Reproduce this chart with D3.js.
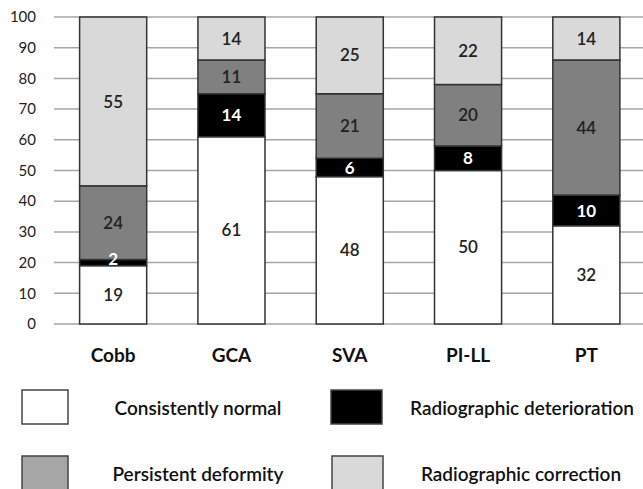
<!DOCTYPE html>
<html>
<head>
<meta charset="utf-8">
<script src="https://cdn.jsdelivr.net/npm/d3@7"></script>
<style>
  body { margin: 0; background: #fff; }
  text { font-family: Lato, "Open Sans", sans-serif; }
</style>
</head>
<body>
<div id="chart"></div>
<script>
const categories = ["Cobb", "GCA", "SVA", "PI-LL", "PT"];
const seriesNames = ["Consistently normal", "Radiographic deterioration", "Persistent deformity", "Radiographic correction"];
const consistentlyNormal = [19, 61, 48, 50, 32];
const radiographicDeterioration = [2, 14, 6, 8, 10];
const persistentDeformity = [24, 11, 21, 20, 44];
const radiographicCorrection = [55, 14, 25, 22, 14];
const yTicks = [0, 10, 20, 30, 40, 50, 60, 70, 80, 90, 100];

const width = 643, height = 489;
const plot = { left: 54, right: 645.5, top: 17, bottom: 324 };

const fills = ["#ffffff", "#000000", "#808080", "#d9d9d9"];
const legendFills = ["#ffffff", "#000000", "#a6a6a6", "#d9d9d9"];
const labelColors = ["#222", "#fff", "#222", "#222"];

const rows = categories.map((c, i) => ({
  cat: c,
  s0: consistentlyNormal[i],
  s1: radiographicDeterioration[i],
  s2: persistentDeformity[i],
  s3: radiographicCorrection[i]
}));
const stack = d3.stack().keys(["s0", "s1", "s2", "s3"])(rows);

const svg = d3.select("#chart").append("svg")
  .attr("width", width).attr("height", height);

const x = d3.scaleBand().domain(categories)
  .range([plot.left, plot.right])
  .paddingInner(0.433).paddingOuter(0.2165);
const y = d3.scaleLinear().domain([0, 100]).range([plot.bottom, plot.top]);

// gridlines
svg.append("g").selectAll("line").data(yTicks).join("line")
  .attr("x1", plot.left).attr("x2", width)
  .attr("y1", d => y(d)).attr("y2", d => y(d))
  .attr("stroke", "#a6a6a6").attr("stroke-width", 1.5);

svg.append("g").selectAll("text").data(yTicks).join("text")
  .attr("x", 36).attr("y", d => y(d))
  .attr("dy", "0.35em").attr("text-anchor", "end")
  .attr("font-size", 15).attr("fill", "#222")
  .text(d => d);

// bars
stack.forEach((layer, k) => {
  svg.append("g").selectAll("rect").data(layer).join("rect")
    .attr("x", d => x(d.data.cat))
    .attr("width", x.bandwidth())
    .attr("y", d => y(d[1]))
    .attr("height", d => y(d[0]) - y(d[1]))
    .attr("fill", fills[k])
    .attr("stroke", "#333").attr("stroke-width", 1.5);
});

// value labels on top of all bars
stack.forEach((layer, k) => {
  svg.append("g").selectAll("text").data(layer).join("text")
    .attr("x", d => x(d.data.cat) + x.bandwidth() / 2)
    .attr("y", d => y((d[0] + d[1]) / 2) - (d[1] - d[0] < 4 ? 4 : 0))
    .attr("dy", "0.36em").attr("text-anchor", "middle")
    .attr("font-size", 17)
    .attr("font-weight", k === 1 ? 700 : 600)
    .attr("fill", labelColors[k])
    .text(d => d[1] - d[0]);
});

// category labels
svg.append("g").selectAll("text").data(categories).join("text")
  .attr("x", d => x(d) + x.bandwidth() / 2)
  .attr("y", 355).attr("dy", "0.35em")
  .attr("text-anchor", "middle")
  .attr("font-size", 19).attr("font-weight", 700).attr("fill", "#111")
  .text(d => d);

// legend
const legendPos = [
  { bx: 22, tx: 198, y: 390 },
  { bx: 331, tx: 522, y: 390 },
  { bx: 22, tx: 198, y: 456 },
  { bx: 332, tx: 521, y: 456 }
];
const lg = svg.append("g").selectAll("g").data(seriesNames).join("g");
lg.append("rect")
  .attr("x", (d, i) => legendPos[i].bx).attr("y", (d, i) => legendPos[i].y)
  .attr("width", (d, i) => i % 2 ? 51 : 46).attr("height", 34)
  .attr("fill", (d, i) => legendFills[i])
  .attr("stroke", "#444").attr("stroke-width", 1.5);
lg.append("text")
  .attr("x", (d, i) => legendPos[i].tx).attr("y", (d, i) => legendPos[i].y + 18)
  .attr("dy", "0.35em").attr("text-anchor", "middle")
  .attr("font-size", 19).attr("font-weight", 600).attr("fill", "#111")
  .text(d => d);
</script>
</body>
</html>
